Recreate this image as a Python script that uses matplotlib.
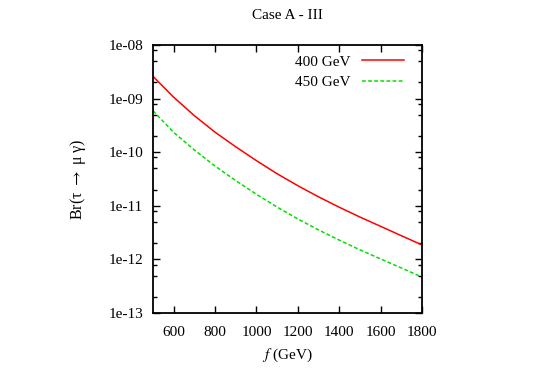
import math
import matplotlib
matplotlib.use("Agg")
import matplotlib.pyplot as plt
from matplotlib.ticker import FixedLocator, FuncFormatter, LogLocator, NullFormatter

plt.rcParams['font.family'] = ['Liberation Serif', 'DejaVu Serif']
plt.rcParams['mathtext.fontset'] = 'stix'

f_vals = [500, 600, 700, 800, 900, 1000, 1100, 1200, 1300, 1400, 1500, 1600, 1700, 1800]
br_400 = [2.60e-9, 1.06e-9, 4.80e-10, 2.36e-10, 1.26e-10, 6.95e-11, 3.96e-11, 2.37e-11,
          1.47e-11, 9.40e-12, 6.17e-12, 4.14e-12, 2.77e-12, 1.86e-12]
br_450 = [5.92e-10, 2.34e-10, 1.10e-10, 5.50e-11, 2.95e-11, 1.64e-11, 9.44e-12, 5.69e-12,
          3.55e-12, 2.29e-12, 1.51e-12, 1.02e-12, 6.92e-13, 4.68e-13]
labels = ["400 GeV", "450 GeV"]
x_ticks = [600, 800, 1000, 1200, 1400, 1600, 1800]
y_ticks = [1e-8, 1e-9, 1e-10, 1e-11, 1e-12, 1e-13]
title = "Case A - III"

fig = plt.figure(figsize=(5.37, 3.76), dpi=100)
ax = fig.add_axes([153/537, 1-313/376, 269/537, 268/376])

ax.plot(f_vals, br_400, color='#ff0000', lw=1.1, label=labels[0])
ax.plot(f_vals, br_450, color='#00e000', lw=1.1, ls=(0, (2.5, 1.5)), label=labels[1])

ax.set_yscale('log')
ax.set_xlim(500, 1800)
ax.set_ylim(1e-13, 1e-8)
ax.xaxis.set_major_locator(FixedLocator(x_ticks))
ax.yaxis.set_major_locator(FixedLocator(y_ticks))
ax.yaxis.set_minor_locator(LogLocator(base=10, subs=(2.0, 5.0, 8.0)))
ax.yaxis.set_minor_formatter(NullFormatter())

def yfmt(v, pos):
    e = int(round(math.log10(v)))
    return "1e-%02d" % (-e)
ax.yaxis.set_major_formatter(FuncFormatter(yfmt))

ax.tick_params(which='both', direction='in', top=True, right=True, labelsize=11, width=1.0)
ax.tick_params(which='major', length=5)
ax.tick_params(axis='x', which='major', pad=9)
ax.tick_params(axis='y', which='major', pad=7)
ax.tick_params(which='minor', length=3)
for s in ax.spines.values():
    s.set_linewidth(1.3)

ax.set_title(title, fontsize=11, pad=19)
ax.set_xlabel(r"$f$ (GeV)", fontsize=11, labelpad=6)
ax.set_ylabel(r"Br(τ $\rightarrow$ μ γ)", fontsize=11.5, labelpad=15)

leg = ax.legend(loc='upper right', bbox_to_anchor=(0.957, 0.985), frameon=False,
                markerfirst=False, fontsize=11, handlelength=2.75, borderaxespad=0.0,
                labelspacing=0.45, handletextpad=0.8)

fig.savefig("out.png", dpi=100)
